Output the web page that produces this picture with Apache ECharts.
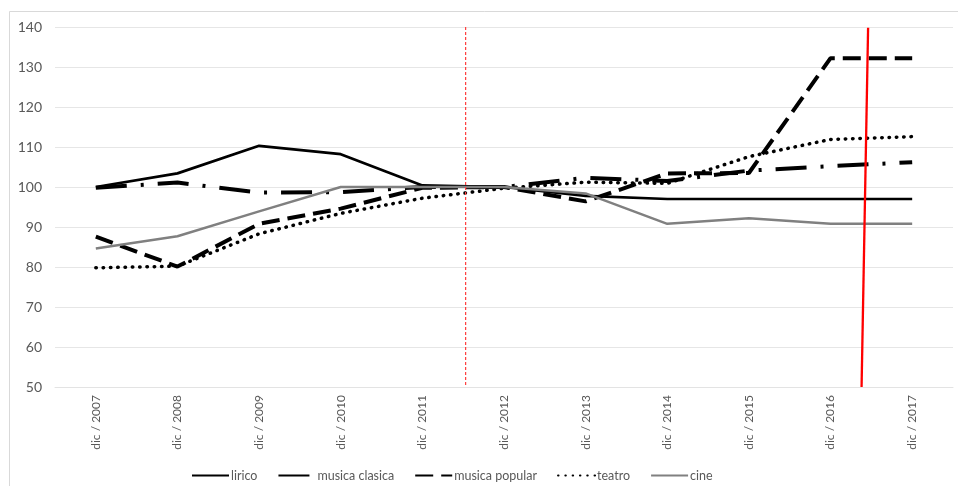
<!DOCTYPE html>
<html>
<head>
<meta charset="utf-8">
<script src="https://cdn.jsdelivr.net/npm/echarts@6/dist/echarts.min.js"></script>
<style>
  html, body { margin: 0; padding: 0; background: #ffffff; }
  #chart { width: 958px; height: 486px; }
</style>
</head>
<body>
<div id="chart"></div>
<script>
const categories = ['dic / 2007', 'dic / 2008', 'dic / 2009', 'dic / 2010', 'dic / 2011', 'dic / 2012', 'dic / 2013', 'dic / 2014', 'dic / 2015', 'dic / 2016', 'dic / 2017'];
const lirico = [100, 103.4, 110.3, 108.2, 100.4, 100, 97.8, 97, 97, 97, 97];
const musicaClasica = [99.8, 101.1, 98.6, 98.7, 100, 100, 102.3, 101.5, 104.1, 105.2, 106.2];
const musicaPopular = [87.6, 80.1, 90.8, 94.6, 99.8, 100, 96.4, 103.4, 103.5, 132.2, 132.2];
const teatro = [79.8, 80.2, 88.3, 93.4, 97.2, 99.7, 101.2, 100.9, 107.6, 111.9, 112.6];
const cine = [84.6, 87.7, 93.9, 100, 100, 100, 98.4, 90.8, 92.2, 90.8, 90.8];
const yTicks = { min: 50, max: 140, interval: 10 };
// hand-drawn annotation lines, in data units (category index, value)
const dottedMarker = [[4.53, 140], [4.53, 50]];
const redMarker = [[9.46, 139.8], [9.38, 50]];

const chart = echarts.init(document.getElementById('chart'));
const font = 'Lato, "Open Sans", sans-serif';
chart.setOption({
  animation: false,
  backgroundColor: '#ffffff',
  graphic: [{
    type: 'rect', left: 7, top: 9, silent: true,
    shape: { x: 0, y: 0, width: 1000, height: 500 },
    style: { fill: 'none', stroke: '#d9d9d9', lineWidth: 1 }
  }],
  grid: { left: 55, right: 5, top: 27, bottom: 99, containLabel: false },
  legend: {
    data: ['lirico', 'musica clasica', 'musica popular', 'teatro', 'cine'],
    left: 186, top: 464,
    itemWidth: 37, itemHeight: 14, itemGap: 20,
    itemStyle: { opacity: 0 },
    textStyle: { color: '#595959', fontSize: 12.5, fontFamily: font, padding: [0, 0, 0, -3] }
  },
  xAxis: [{
    type: 'category',
    data: categories,
    boundaryGap: true,
    axisLine: { show: true, lineStyle: { color: '#e3e3e3', width: 1 } },
    axisTick: { show: false },
    axisLabel: { rotate: 90, color: '#595959', fontSize: 12, fontFamily: font, margin: 8 },
    splitLine: { show: false }
  }, {
    type: 'value', min: -0.5, max: 10.5, show: false
  }],
  yAxis: {
    type: 'value',
    min: yTicks.min, max: yTicks.max, interval: yTicks.interval,
    axisLine: { show: false },
    axisTick: { show: false },
    axisLabel: { color: '#595959', fontSize: 14, fontFamily: font, margin: 13 },
    splitLine: { lineStyle: { color: '#e6e6e6', width: 1 } }
  },
  series: [
    { name: 'lirico', type: 'line', data: lirico, symbol: 'none', color: '#000000',
      lineStyle: { color: '#000000', width: 2.7 } },
    { name: 'musica clasica', type: 'line', data: musicaClasica, symbol: 'none', color: '#000000',
      lineStyle: { color: '#000000', width: 4, type: [31, 14, 3, 14], cap: 'butt' } },
    { name: 'musica popular', type: 'line', data: musicaPopular, symbol: 'none', color: '#000000',
      lineStyle: { color: '#000000', width: 4, type: [18, 8], cap: 'butt' } },
    { name: 'teatro', type: 'line', data: teatro, symbol: 'none', color: '#000000',
      lineStyle: { color: '#000000', width: 3.5, type: [0.5, 6.8], cap: 'round' } },
    { name: 'cine', type: 'line', data: cine, symbol: 'none', color: '#808080',
      lineStyle: { color: '#808080', width: 2.5 } },
    { name: 'marker-dotted', type: 'line', xAxisIndex: 1, data: dottedMarker, symbol: 'none', silent: true,
      lineStyle: { color: '#ff4040', width: 1.2, type: [3, 2] } },
    { name: 'marker-red', type: 'line', xAxisIndex: 1, data: redMarker, symbol: 'none', silent: true,
      lineStyle: { color: '#ff0000', width: 2.3 } }
  ]
});
</script>
</body>
</html>
